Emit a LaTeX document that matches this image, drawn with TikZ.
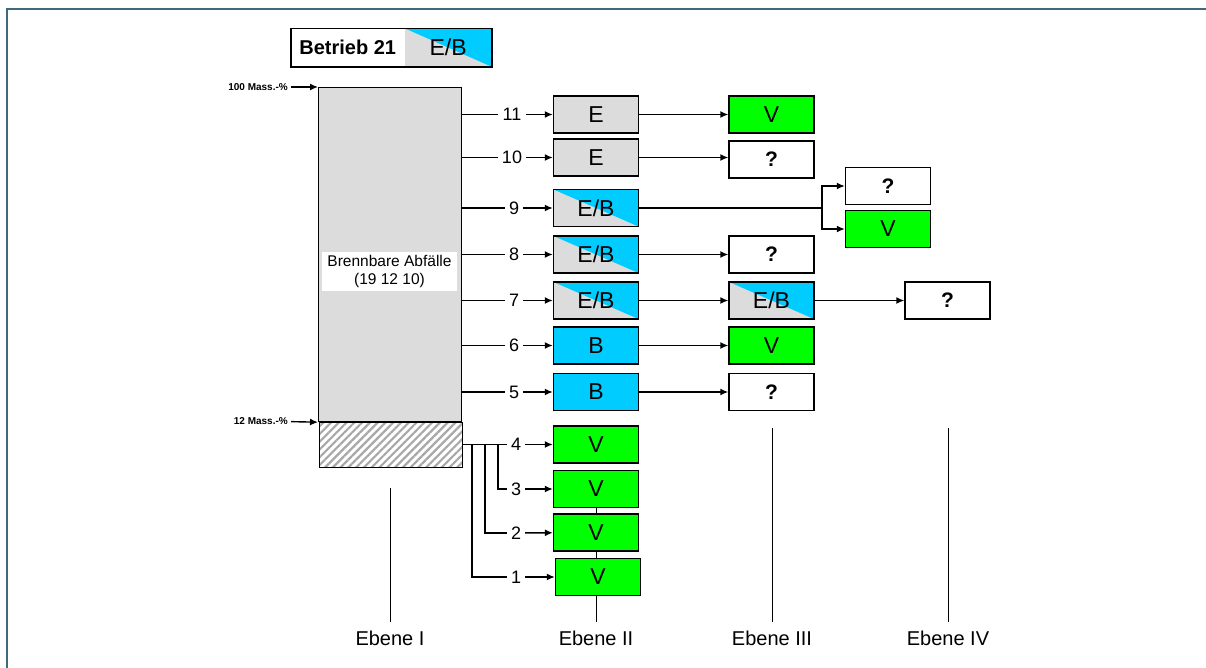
\documentclass[tikz,border=0pt]{standalone}
\usepackage{fontspec}
\setmainfont{Liberation Sans}
\usetikzlibrary{arrows.meta,patterns.meta,backgrounds}
\definecolor{grayfill}{HTML}{DCDCDC}
\definecolor{bluefill}{HTML}{00CCFF}
\definecolor{greenfill}{HTML}{00FF00}
\definecolor{framecol}{HTML}{3F6A7E}
\definecolor{hatchcol}{HTML}{A8A8A8}
\tikzset{
 box/.style={draw, line width=1.4pt, minimum width=85pt, minimum height=37pt, inner sep=0pt, font=\fontsize{23}{27}\selectfont},
 ebox/.style={box, fill=grayfill},
 bbox/.style={box, fill=bluefill},
 vbox/.style={box, fill=greenfill},
 qbox/.style={box, fill=white, font=\fontsize{21}{25}\selectfont\bfseries},
 ebbox/.style={box, fill=grayfill, path picture={\fill[bluefill] (path picture bounding box.north west) -- (path picture bounding box.north east) -- (path picture bounding box.south east) -- cycle;}},
 numlab/.style={inner sep=4pt, font=\fontsize{18}{22}\selectfont},
 conn/.style={line width=1.4pt},
 arr/.style={conn, -{Latex[length=8pt,width=7pt]}},
 ebene/.style={font=\fontsize{20}{24}\selectfont, inner sep=2pt},
 massl/.style={font=\fontsize{10}{12}\selectfont\bfseries, anchor=east, inner sep=3pt},
 pillar/.style={line width=1pt},
}
\begin{document}
\begin{tikzpicture}[x=1pt,y=-1pt]
\useasboundingbox (0,0) rectangle (1206,668);
% frame
\draw[framecol, line width=2.5pt] (7,668) -- (7,9) -- (1206,9);
% title
\node[font=\fontsize{20}{24}\selectfont\bfseries, minimum width=113pt, minimum height=38pt, inner sep=0pt, anchor=west] (tb) at (291,47.5) {Betrieb 21};
\node[ebbox, draw=none, minimum width=86pt, minimum height=38pt, anchor=west, font=\fontsize{23}{27}\selectfont] (te) at (tb.east) {E/B};
\draw[line width=1.4pt] (tb.north west) rectangle (te.south east);
% main column
\node[draw, line width=1.2pt, fill=grayfill, minimum width=143pt, minimum height=334pt, anchor=north west, inner sep=0pt] (main) at (318,87) {};
\node[draw, line width=1.2pt, pattern={Lines[angle=45,distance=5.5pt,line width=2.2pt]}, pattern color=hatchcol, minimum width=143pt, minimum height=45pt, anchor=north west, inner sep=0pt] (hatch) at (318,421) {};
\node[fill=white, align=center, font=\fontsize{15.5}{18.5}\selectfont, minimum width=135pt, minimum height=39pt, inner sep=0pt] (lbl) at (389.5,271.5) {Brennbare Abfälle\\(19 12 10)};
\node[massl] (m100) at (291,87) {100 Mass.-\%};
\node[massl] (m12) at (291,421) {12 Mass.-\%};
\draw[arr] (m100) -- (main.north west);
\draw[arr] (m12) -- (main.south west);
% level II
\node[ebox] (b11) at (596,114.5) {E};
\node[ebox] (b10) at (596,157.5) {E};
\node[ebbox] (b9) at (596,208) {E/B};
\node[ebbox] (b8) at (596,254.5) {E/B};
\node[ebbox] (b7) at (596,300.5) {E/B};
\node[bbox] (b6) at (596,345.5) {B};
\node[bbox] (b5) at (596,392) {B};
% ebene II pillar behind green boxes
\node[ebene] (e2) at (596,638) {Ebene II};
\begin{scope}[on background layer]
\draw[pillar] (596,508) -- ([yshift=6pt]e2.north);
\end{scope}
\node[vbox] (b4) at (596,444.5) {V};
\node[vbox] (b3) at (596,489) {V};
\node[vbox] (b2) at (596,532.5) {V};
\node[vbox] (b1) at (598,577) {V};
% level III
\node[vbox] (c11) at (771.5,114.5) {V};
\node[qbox] (c10) at (771.5,159.5) {?};
\node[qbox] (c8) at (771.5,254.5) {?};
\node[ebbox] (c7) at (771.5,300.5) {E/B};
\node[vbox] (c6) at (771.5,345.5) {V};
\node[qbox] (c5) at (771.5,392) {?};
% level IV
\node[qbox] (d9q) at (888,186) {?};
\node[vbox] (d9v) at (888,229) {V};
\node[qbox] (d7) at (947.5,300.5) {?};
% number labels
\node[numlab] (l11) at (512,114.5) {11};
\node[numlab] (l10) at (512,157.5) {10};
\node[numlab] (l9) at (514,208) {9};
\node[numlab] (l8) at (514,254.5) {8};
\node[numlab] (l7) at (514,300.5) {7};
\node[numlab] (l6) at (514,345.5) {6};
\node[numlab] (l5) at (514,392) {5};
\node[numlab] (l4) at (516,444.5) {4};
\node[numlab] (l3) at (516,489) {3};
\node[numlab] (l2) at (516,533) {2};
\node[numlab] (l1) at (516,577) {1};
\foreach \i in {11,10,9,8,7,6,5}{
  \draw[conn] (main.east |- l\i) -- (l\i);
  \draw[arr] (l\i) -- (b\i);
}
\draw[conn] (hatch.east |- l4) -- (l4);
\coordinate (v1) at (472,444.5);
\coordinate (v2) at (485,444.5);
\coordinate (v3) at (498,444.5);
\draw[conn] (v1) |- (l1);
\draw[conn] (v2) |- (l2);
\draw[conn] (v3) |- (l3);
\foreach \i in {4,3,2,1}{
  \draw[arr] (l\i) -- (b\i);
}
% level II -> III
\draw[arr] (b11) -- (c11);
\draw[arr] (b10.east) -- (b10.east -| c10.west);
\draw[arr] (b8) -- (c8);
\draw[arr] (b7) -- (c7);
\draw[arr] (b6) -- (c6);
\draw[arr] (b5) -- (c5);
\draw[arr] (c7) -- (d7);
% branch 9
\coordinate (br) at (822,208);
\draw[conn] (b9.east) -- (br);
\draw[arr] (br) |- (d9q);
\draw[arr] (br) |- (d9v);
% ebenen
\node[ebene] (e1) at (390,638) {Ebene I};
\node[ebene] (e3) at (772,638) {Ebene III};
\node[ebene] (e4) at (948,638) {Ebene IV};
\coordinate (t1) at (390,488);
\coordinate (t3) at (772,428);
\coordinate (t4) at (948,428);
\draw[pillar] (t1) -- ([yshift=6pt]e1.north);
\draw[pillar] (t3) -- ([yshift=6pt]e3.north);
\draw[pillar] (t4) -- ([yshift=6pt]e4.north);
\end{tikzpicture}
\end{document}
